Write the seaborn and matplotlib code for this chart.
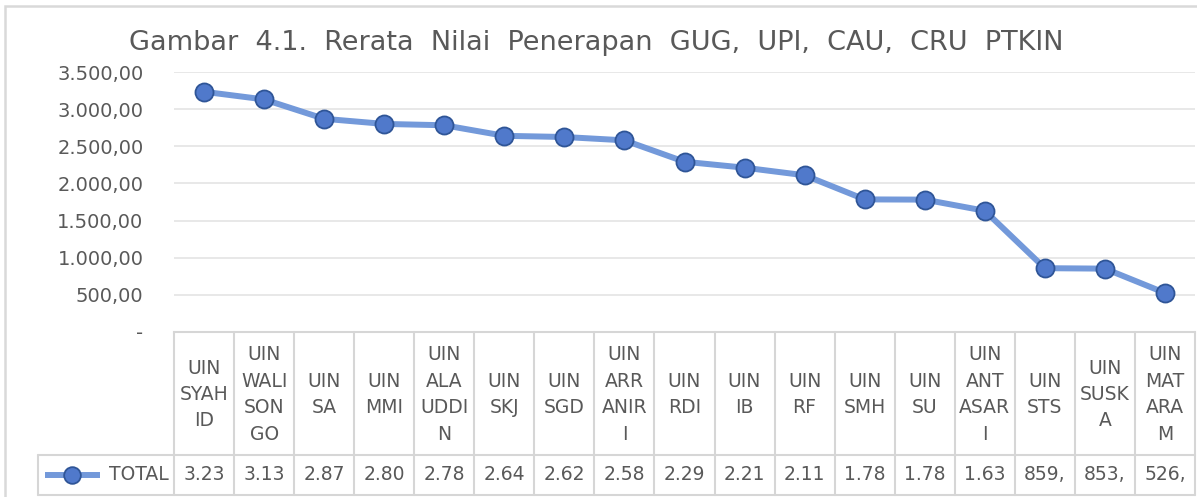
import numpy as np
import pandas as pd
import seaborn as sns
import matplotlib.pyplot as plt
from matplotlib.ticker import FuncFormatter, MultipleLocator
from matplotlib.transforms import blended_transform_factory
from matplotlib.patches import Rectangle

# -------------------------------
# Data
# -------------------------------
kampus = ["UIN SYAHID", "UIN WALISONGO", "UIN SA", "UIN MMI", "UIN ALAUDDIN",
          "UIN SKJ", "UIN SGD", "UIN ARRANIRI", "UIN RDI", "UIN IB", "UIN RF",
          "UIN SMH", "UIN SU", "UIN ANTASARI", "UIN STS", "UIN SUSKA", "UIN MATARAM"]
header_labels = ["UIN\nSYAH\nID", "UIN\nWALI\nSON\nGO", "UIN\nSA", "UIN\nMMI",
                 "UIN\nALA\nUDDI\nN", "UIN\nSKJ", "UIN\nSGD", "UIN\nARR\nANIR\nI",
                 "UIN\nRDI", "UIN\nIB", "UIN\nRF", "UIN\nSMH", "UIN\nSU",
                 "UIN\nANT\nASAR\nI", "UIN\nSTS", "UIN\nSUSK\nA", "UIN\nMAT\nARA\nM"]
nilai = [3234, 3131, 2870, 2801, 2783, 2641, 2625, 2580, 2292, 2212, 2110,
         1785, 1782, 1632, 859, 853, 526]
seri = "TOTAL"
judul = "Gambar  4.1.  Rerata  Nilai  Penerapan  GUG,  UPI,  CAU,  CRU  PTKIN"

df = pd.DataFrame({"kampus": kampus, "nilai": nilai})

# -------------------------------
# Styling
# -------------------------------
sns.set_style("white")
plt.rcParams['font.family'] = ['DejaVu Sans']
text_col = "#595959"
grid_col = "#e4e4e4"
table_col = "#d6d6d6"
line_col = "#7399da"
face_col = "#5079cb"
edge_col = "#2f5597"

W, H = 1197, 497
fig = plt.figure(figsize=(W / 100, H / 100), dpi=100)

# plot area in pixel coordinates
x0, x1, ytop, ybot = 174, 1195, 72, 332
ax = fig.add_axes([x0 / W, 1 - ybot / H, (x1 - x0) / W, (ybot - ytop) / H])

sns.pointplot(data=df, x="kampus", y="nilai", ax=ax, color=line_col,
              linewidth=4.3, markersize=13, markerfacecolor=face_col,
              markeredgecolor=edge_col, markeredgewidth=1.3, errorbar=None)

ax.set_xlim(-0.5, len(kampus) - 0.5)
ax.set_ylim(0, 3500)
ax.yaxis.set_major_locator(MultipleLocator(500))


def fmt_id(v, pos=None):
    if v == 0:
        return "-"
    s = f"{v:,.2f}"
    return s.replace(",", "X").replace(".", ",").replace("X", ".")


ax.yaxis.set_major_formatter(FuncFormatter(fmt_id))
ax.tick_params(axis="y", length=0, labelsize=14, labelcolor=text_col, pad=22)
ax.tick_params(axis="x", length=0, labelbottom=False)
ax.set_xlabel("")
ax.set_ylabel("")
ax.grid(axis="y", color=grid_col, linewidth=1.2)
for s in ["top", "right", "left"]:
    ax.spines[s].set_visible(False)
ax.spines["bottom"].set_color(table_col)
ax.spines["bottom"].set_linewidth(1.5)

# -------------------------------
# Data table under the chart
# -------------------------------
tr = blended_transform_factory(ax.transData, fig.transFigure)
col_w = (x1 - x0) / len(kampus)


def px2x(px):
    return -0.5 + (px - x0) / col_w


def py(p):
    return 1 - p / H


y_head_top, y_mid, y_bot = 332, 455, 495
leg_left = px2x(38)
n = len(kampus)

line_kw = dict(color=table_col, linewidth=1.5, transform=tr, clip_on=False)
for k in range(n + 1):
    ax.plot([k - 0.5, k - 0.5], [py(y_head_top), py(y_bot)], **line_kw)
ax.plot([leg_left, leg_left], [py(y_mid), py(y_bot)], **line_kw)
ax.plot([leg_left, n - 0.5], [py(y_mid), py(y_mid)], **line_kw)
ax.plot([leg_left, n - 0.5], [py(y_bot), py(y_bot)], **line_kw)

for i, lab in enumerate(header_labels):
    ax.text(i, py((y_head_top + y_mid) / 2 + 1), lab, transform=tr, ha="center",
            va="center", fontsize=13.5, color=text_col, linespacing=1.5)

y_row = py((y_mid + y_bot) / 2)
for i, v in enumerate(nilai):
    ax.text(i, y_row, fmt_id(v)[:4], transform=tr, ha="center", va="center",
            fontsize=13.5, color=text_col)

# legend key inside the table
ax.plot([px2x(45), px2x(100)], [y_row, y_row], color=line_col, linewidth=4.3,
        transform=tr, clip_on=False, solid_capstyle="butt")
ax.plot([px2x(72)], [y_row], marker="o", markersize=12, color=face_col,
        markeredgecolor=edge_col, markeredgewidth=1.3, transform=tr, clip_on=False)
ax.text(px2x(169), y_row, seri, transform=tr, ha="right", va="center",
        fontsize=13.5, color=text_col)

# title and outer chart frame
fig.text(596 / W, py(43), judul, ha="center", va="center", fontsize=19.5,
         color=text_col)
fig.patches.append(Rectangle((5 / W, -0.05), 1.1, py(6) + 0.05,
                             transform=fig.transFigure, fill=False,
                             edgecolor="#d9d9d9", linewidth=1.8))

fig.savefig("out.png", dpi=100)
